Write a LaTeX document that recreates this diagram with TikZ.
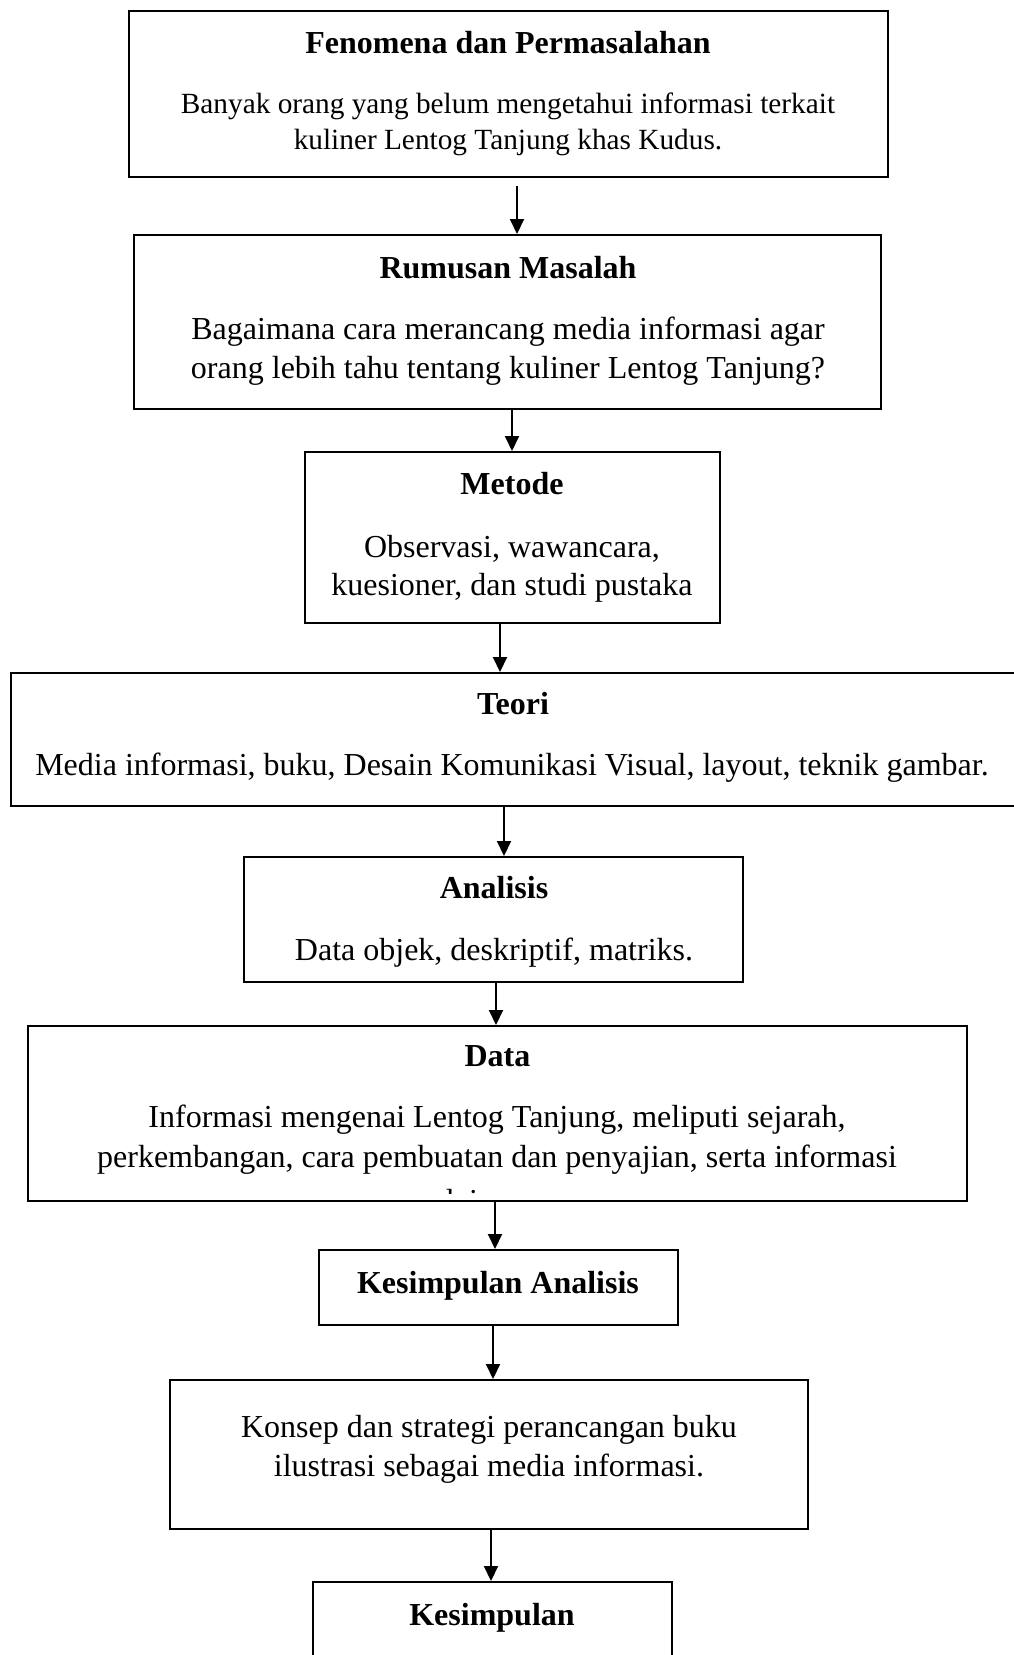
\documentclass[tikz,border=0pt]{standalone}
\usepackage{fontspec}
\setmainfont{Liberation Serif}
\usetikzlibrary{arrows.meta}

\begin{document}
\begin{tikzpicture}[x=1pt,y=-1pt,
    box/.style={draw,line width=2pt,inner sep=0pt},
    head/.style={font=\fontsize{32}{38}\selectfont\bfseries},
    body/.style={font=\fontsize{32}{39}\selectfont,align=center},
    arr/.style={-{Triangle[length=15pt,width=14pt]},line width=2pt}]
  \useasboundingbox (0,0) rectangle (1013,1655);
  % boxes
  \draw
    (508.5,94) node[box,minimum width=759,minimum height=166] (fen){}
    (507.5,322) node[box,minimum width=747,minimum height=174] (rum){}
    (512.5,537.5) node[box,minimum width=415,minimum height=171] (met){}
    (525.5,739.5) node[box,minimum width=1029,minimum height=133] (teo){}
    (493.5,919.5) node[box,minimum width=499,minimum height=125] (ana){}
    (497.5,1113.5) node[box,minimum width=939,minimum height=175] (dat){}
    (498.5,1287.5) node[box,minimum width=359,minimum height=75] (kan){}
    (489,1454.5) node[box,minimum width=638,minimum height=149] (kon){}
    (492.5,1641) node[box,minimum width=359,minimum height=118] (kes){};
  % texts
  \draw
    (508,43) node[head] (fenT){Fenomena dan Permasalahan}
    (508,124) node[body,font=\fontsize{29.3}{36}\selectfont] (fenB){Banyak orang yang belum mengetahui informasi terkait\\kuliner Lentog Tanjung khas Kudus.}
    (508,268) node[head] (rumT){Rumusan Masalah}
    (508,351.5) node[body] (rumB){Bagaimana cara merancang media informasi agar\\orang lebih tahu tentang kuliner Lentog Tanjung?}
    (512,484) node[head] (metT){Metode}
    (512,569) node[body,font=\fontsize{32}{38}\selectfont] (metB){Observasi, wawancara,\\kuesioner, dan studi pustaka}
    (513,704) node[head] (teoT){Teori}
    (512,768) node[body] (teoB){Media informasi, buku, Desain Komunikasi Visual, layout, teknik gambar.}
    (494,888) node[head] (anaT){Analisis}
    (494,953) node[body] (anaB){Data objek, deskriptif, matriks.}
    (497.5,1056) node[head] (datT){Data}
    (497,1140) node[body,font=\fontsize{32}{40}\selectfont] (datB){Informasi mengenai Lentog Tanjung, meliputi sejarah,\\perkembangan, cara pembuatan dan penyajian, serta informasi}
    (498,1286) node[head] (kanT){Kesimpulan Analisis}
    (489,1449.5) node[body] (konB){Konsep dan strategi perancangan buku\\ilustrasi sebagai media informasi.}
    (492,1618) node[head] (kesT){Kesimpulan};
  \begin{scope}
    \clip (dat.north west) rectangle ([yshift=9pt]dat.south east);
    \node[body,anchor=base] (datC) at (497,1211) {lainnya.};
  \end{scope}
  % arrows
  \begin{scope}[arr]
    \draw[shorten <=8pt] (fen.south -| 517,0) -- (rum.north -| 517,0);
    \draw (rum.south -| 512,0) -- (met.north -| 512,0);
    \draw (met.south -| 500,0) -- (teo.north -| 500,0);
    \draw (teo.south -| 504,0) -- (ana.north -| 504,0);
    \draw (ana.south -| 496,0) -- (dat.north -| 496,0);
    \draw (dat.south -| 495,0) -- (kan.north -| 495,0);
    \draw (kan.south -| 493,0) -- (kon.north -| 493,0);
    \draw (kon.south -| 491,0) -- (kes.north -| 491,0);
  \end{scope}
\end{tikzpicture}
\end{document}
